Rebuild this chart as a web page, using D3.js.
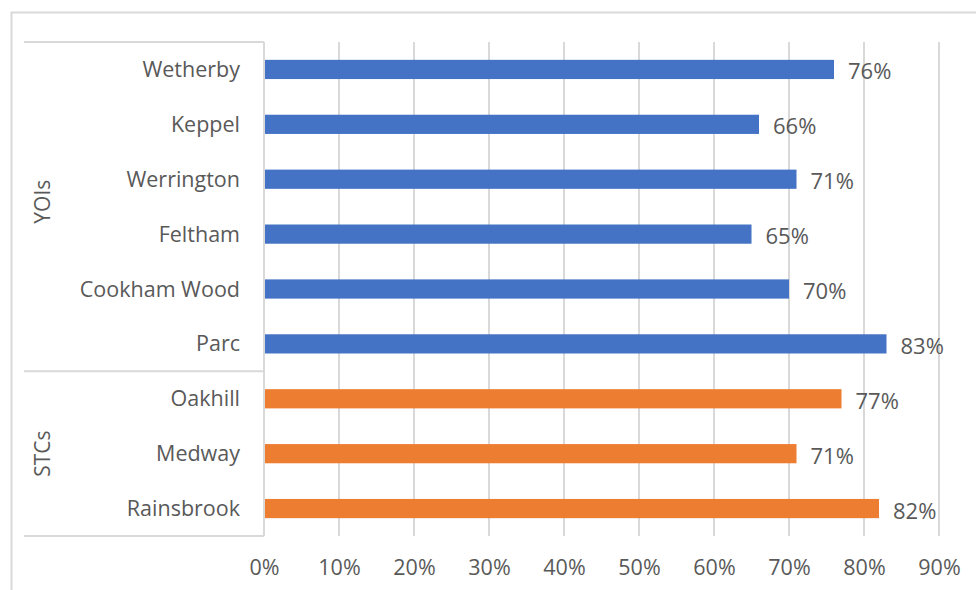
<!DOCTYPE html>
<html><head><meta charset="utf-8">
<script src="https://cdn.jsdelivr.net/npm/d3@7"></script>
<style>body{margin:0;background:#fff;} svg{display:block;}</style>
</head><body>
<svg id="c" width="976" height="590"></svg>
<script>
const categories = ["Wetherby","Keppel","Werrington","Feltham","Cookham Wood","Parc","Oakhill","Medway","Rainsbrook"];
const groupOf = ["YOIs","YOIs","YOIs","YOIs","YOIs","YOIs","STCs","STCs","STCs"];
const values = [0.76,0.66,0.71,0.65,0.70,0.83,0.77,0.71,0.82];
const groups = ["YOIs","STCs"];
const tickValues = [0,0.1,0.2,0.3,0.4,0.5,0.6,0.7,0.8,0.9];
const colors = {YOIs:"#4472C4", STCs:"#ED7D31"};

const svg = d3.select("#c");
const font = "'Open Sans', 'Segoe UI', sans-serif";
const textCol = "#595959";
const gridCol = "#D9D9D9";

// outer chart border
svg.append("rect").attr("x",11.5).attr("y",12.5).attr("width",1000).attr("height",1000)
  .attr("fill","none").attr("stroke","#D9D9D9").attr("stroke-width",2);

const pLeft = 264, pRight = 939, pTop = 42, pBottom = 536;
const x = d3.scaleLinear().domain([0,0.9]).range([pLeft,pRight]);
const y = d3.scaleBand().domain(categories).range([pTop,pBottom]).paddingInner(0.65).paddingOuter(0.325);

// gridlines
svg.append("g").selectAll("line").data(tickValues.slice(1)).join("line")
  .attr("x1",d=>x(d)).attr("x2",d=>x(d)).attr("y1",pTop).attr("y2",pBottom)
  .attr("stroke",gridCol).attr("stroke-width",2);

// bars
svg.append("g").selectAll("rect").data(categories).join("rect")
  .attr("x",x(0)).attr("y",d=>y(d)).attr("width",(d,i)=>x(values[i])-x(0)).attr("height",y.bandwidth())
  .attr("fill",(d,i)=>colors[groupOf[i]]);

// value labels
svg.append("g").selectAll("text").data(categories).join("text")
  .attr("x",(d,i)=>x(values[i])+14).attr("y",d=>y(d)+y.bandwidth()/2+1)
  .attr("dominant-baseline","central").attr("font-family",font).attr("font-size",22).attr("fill",textCol)
  .text((d,i)=>Math.round(values[i]*100)+"%");

// x axis
const xAxis = d3.axisBottom(x).tickValues(tickValues).tickFormat(d3.format(".0%")).tickSize(0).tickPadding(0);
const gx = svg.append("g").attr("transform",`translate(0,${pBottom})`).call(xAxis);
gx.select(".domain").remove();
gx.selectAll("text").attr("y",31).attr("dy","0.35em").attr("font-family",font).attr("font-size",21.5).attr("fill",textCol);

// y axis (categories)
const yAxis = d3.axisLeft(y).tickSize(0).tickPadding(24);
const gy = svg.append("g").attr("transform",`translate(${pLeft},0)`).call(yAxis);
gy.select(".domain").remove();
gy.selectAll("text").attr("font-family",font).attr("font-size",21.5).attr("fill",textCol).attr("dy","0.35em");

// axis line and group separators
svg.append("line").attr("x1",pLeft).attr("x2",pLeft).attr("y1",pTop).attr("y2",pBottom).attr("stroke",gridCol).attr("stroke-width",2);
const groupBounds = groups.map(g=>{
  const cats = categories.filter((c,i)=>groupOf[i]===g);
  const y0 = y(cats[0]) - y.step()*y.paddingInner()/2;
  const y1 = y(cats[cats.length-1]) + y.bandwidth() + y.step()*y.paddingInner()/2;
  return {g, y0, y1};
});
const seps = [pTop, ...groupBounds.map(b=>b.y1)];
svg.append("g").selectAll("line").data(seps).join("line")
  .attr("x1",24).attr("x2",pLeft).attr("y1",d=>d).attr("y2",d=>d).attr("stroke",gridCol).attr("stroke-width",2);

svg.append("g").selectAll("text").data(groupBounds).join("text")
  .attr("transform",(d,i)=>`translate(42,${(d.y0+d.y1)/2 - (i===0?5:0)}) rotate(-90)`)
  .attr("text-anchor","middle").attr("dominant-baseline","central")
  .attr("font-family",font).attr("font-size",21).attr("fill",textCol).text(d=>d.g);
</script>
</body></html>
